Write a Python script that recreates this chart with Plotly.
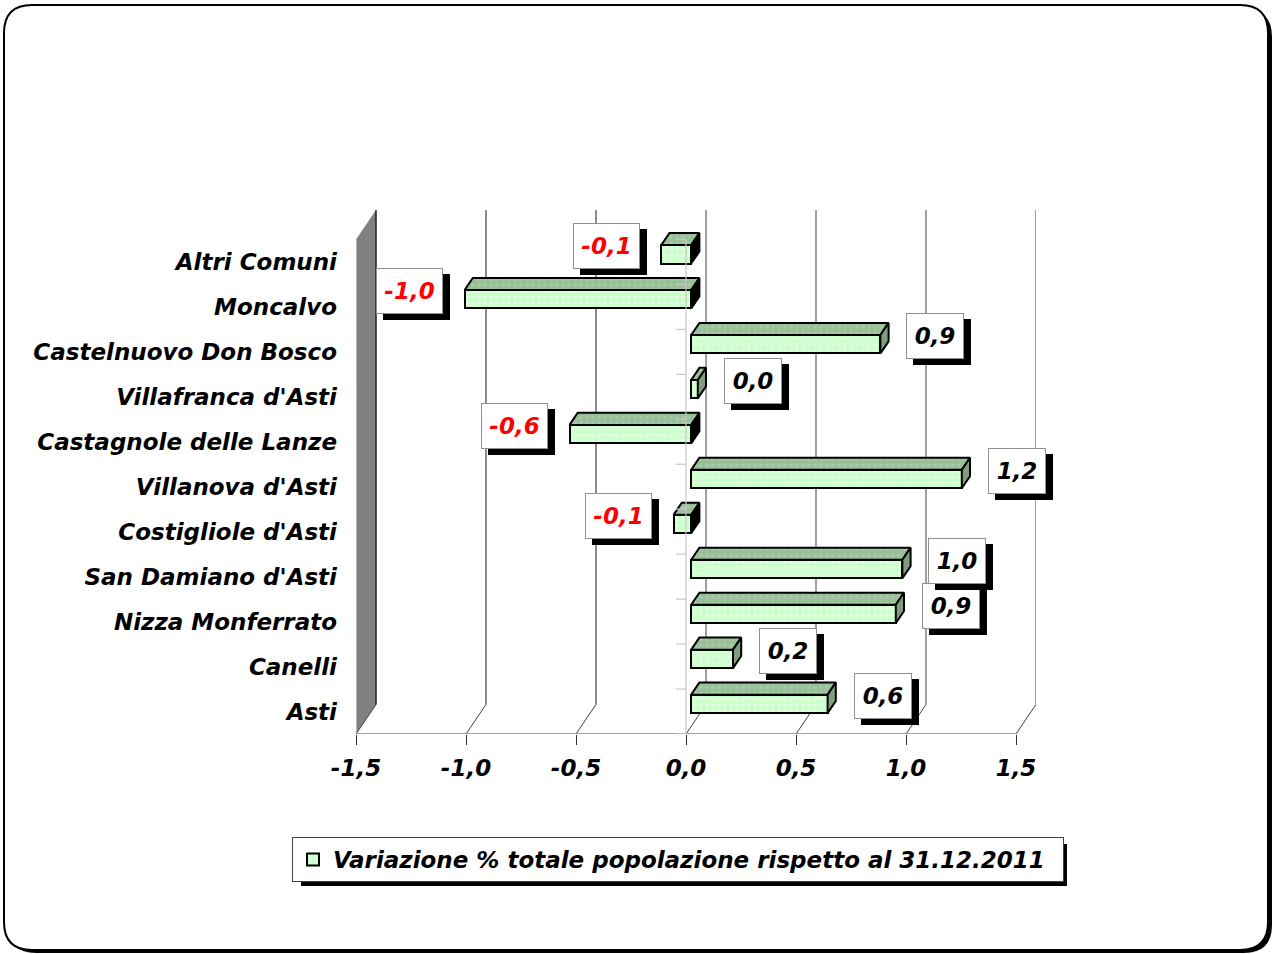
import plotly.graph_objects as go

# ---------------- data ----------------
CATEGORIES = ["Asti", "Canelli", "Nizza Monferrato", "San Damiano d'Asti",
              "Costigliole d'Asti", "Villanova d'Asti", "Castagnole delle Lanze",
              "Villafranca d'Asti", "Castelnuovo Don Bosco", "Moncalvo", "Altri Comuni"]
VALUES = [0.62, 0.19, 0.93, 0.96, -0.08, 1.23, -0.553, 0.03, 0.86, -1.03, -0.136]
TICK_VALUES = [-1.5, -1.0, -0.5, 0.0, 0.5, 1.0, 1.5]
TICK_LABELS = ["-1,5", "-1,0", "-0,5", "0,0", "0,5", "1,0", "1,5"]
SERIES_NAME = "Variazione % totale popolazione rispetto al 31.12.2011"

# ---------------- geometry ----------------
W, H = 1273, 954
ML, MR, MT, MB = 356, 237, 210, 220
PW = W - ML - MR
PH = H - MT - MB
N = len(CATEGORIES)
XMIN = TICK_VALUES[0]
XEND = TICK_VALUES[-1]
PPU_X = PW / (XEND - XMIN + 20.0 / 220.0)
DEPTH_PX = (20.0, 29.5)
PPU_Y = (PH - DEPTH_PX[1]) / N
DXV = DEPTH_PX[0] / PPU_X
DYV = DEPTH_PX[1] / PPU_Y
XMAX = XMIN + PW / PPU_X
YMIN = -0.5
YMAX = YMIN + PH / PPU_Y

F0 = 0.26      # depth of bar front face (fraction of full depth)
FD = 0.41      # bar depth (fraction)
BAR_H = 0.41   # bar thickness (fraction of band)

FONT_SIZE = 23
FONT = dict(family="DejaVu Sans", size=FONT_SIZE, color="black", weight="bold", style="italic")
CHAR_EM = {"-": 0.415, ",": 0.38, ".": 0.38}


def text_width(s):
    return sum(CHAR_EM.get(c, 0.696) for c in s) * FONT_SIZE


def pxx(x):
    return (x - ML) / PW


def pxy(y):
    return (H - MB - y) / PH


def rrect_path(x0, y0, x1, y1, r):
    pts = [("M", x0 + r, y0), ("L", x1 - r, y0), ("Q", x1, y0, x1, y0 + r),
           ("L", x1, y1 - r), ("Q", x1, y1, x1 - r, y1), ("L", x0 + r, y1),
           ("Q", x0, y1, x0, y1 - r), ("L", x0, y0 + r), ("Q", x0, y0, x0 + r, y0)]
    s = ""
    for p in pts:
        cmd = p[0]
        coords = p[1:]
        s += cmd + " " + " ".join(
            f"{pxx(coords[k]):.5f},{pxy(coords[k+1]):.5f}" for k in range(0, len(coords), 2)) + " "
    return s + "Z"


shapes = []
# page border with shadow
shapes.append(dict(type="path", xref="paper", yref="paper", layer="below",
                   path=rrect_path(8, 9, 1272, 953, 28), fillcolor="black", line=dict(width=0)))
shapes.append(dict(type="path", xref="paper", yref="paper", layer="below",
                   path=rrect_path(4, 5, 1268, 950, 28), fillcolor="white",
                   line=dict(color="black", width=2)))


def seg(x0, y0, x1, y1, color, width=1.0, layer="below"):
    shapes.append(dict(type="line", xref="x", yref="y", x0=x0, y0=y0, x1=x1, y1=y1,
                       layer=layer, line=dict(color=color, width=width)))


YB = -0.5
YT = N - 0.5
# left wall
shapes.append(dict(type="path", xref="x", yref="y", layer="below",
                   path=f"M {XMIN},{YB} L {XMIN},{YT} L {XMIN+DXV},{YT+DYV} L {XMIN+DXV},{YB+DYV} Z",
                   fillcolor="#808080", line=dict(width=0)))
seg(XMIN + DXV, YB + DYV, XMIN + DXV, YT + DYV, "#202020", 1.5)
seg(XMIN, YB, XMIN, YT, "#c8c8c8", 1.5)
for k in range(N + 1):
    seg(XMIN - 12 / PPU_X, k - 0.5, XMIN, k - 0.5, "#c8c8c8", 1.2)
# back wall gridlines
for t in TICK_VALUES[1:]:
    seg(t + DXV, YB + DYV, t + DXV, YT + DYV, "#404040" if t < 0 else "#606060", 1.2)
# floor
for t in TICK_VALUES:
    seg(t, YB, t + DXV, YB + DYV, "#404040", 1)
seg(XMIN, YB, XEND, YB, "#808080", 1.5)

fig = go.Figure()

# front faces of bars
ys = [i + F0 * DYV for i in range(N)]
base = F0 * DXV
fig.add_trace(go.Bar(
    orientation="h", y=ys, x=VALUES, base=base, width=BAR_H, name=SERIES_NAME,
    marker=dict(color="#ccffcc", line=dict(color="black", width=2),
                pattern=dict(shape=".", fgcolor="#f4fff4", bgcolor="#ccffcc", size=6, solidity=0.3)),
    hoverinfo="skip", showlegend=True))

# top faces and side faces
tx, ty, spx, spy, snx, sny = [], [], [], [], [], []
ox, oy = FD * DXV, FD * DYV
for yc, v in zip(ys, VALUES):
    x0, x1 = base + min(v, 0), base + max(v, 0)
    yt, yb = yc + BAR_H / 2, yc - BAR_H / 2
    tx += [x0, x1, x1 + ox, x0 + ox, x0, None]
    ty += [yt, yt, yt + oy, yt + oy, yt, None]
    sx = [x1, x1, x1 + ox, x1 + ox, x1, None]
    sy = [yb, yt, yt + oy, yb + oy, yb, None]
    if v >= 0:
        spx += sx
        spy += sy
    else:
        snx += sx
        sny += sy

fig.add_trace(go.Scatter(x=tx, y=ty, mode="lines", fill="toself", fillcolor="#99bf99",
                         fillpattern=dict(shape=".", fgcolor="#b4d4b4", bgcolor="#99bf99", size=6, solidity=0.3),
                         line=dict(color="black", width=2), hoverinfo="skip", showlegend=False))
fig.add_trace(go.Scatter(x=spx, y=spy, mode="lines", fill="toself", fillcolor="#7e9e7e",
                         line=dict(color="black", width=2), hoverinfo="skip", showlegend=False))
fig.add_trace(go.Scatter(x=snx, y=sny, mode="lines", fill="toself", fillcolor="black",
                         line=dict(color="black", width=2), hoverinfo="skip", showlegend=False))

# front category axis at 0
ax_x, ax_y = [0, 0, None], [YB, YT, None]
for k in range(N + 1):
    ax_x += [-10 / PPU_X, 0, None]
    ax_y += [k - 0.5, k - 0.5, None]
fig.add_trace(go.Scatter(x=ax_x, y=ax_y, mode="lines", line=dict(color="#c8c8c8", width=1.2),
                         hoverinfo="skip", showlegend=False))

# data labels (white boxes with black drop shadow)
annotations = []
LBL_OFF = 55 / PPU_X
LBL_H = 30
for yc, v in zip(ys, VALUES):
    txt = f"{v:.1f}".replace(".", ",")
    end = base + v
    lx = end + (LBL_OFF if v >= 0 else -LBL_OFF)
    ly = yc + 8 / PPU_Y
    col = "red" if v < 0 else "black"
    wbox = round(text_width(txt)) + 1
    annotations.append(dict(x=lx, y=ly, xref="x", yref="y", text=" ", showarrow=False,
                            width=wbox, height=LBL_H, bgcolor="black", bordercolor="black",
                            borderwidth=1, borderpad=7, xshift=7, yshift=-6))
    annotations.append(dict(x=lx, y=ly, xref="x", yref="y", text=txt, showarrow=False,
                            width=wbox, height=LBL_H, font=dict(FONT, color=col),
                            bgcolor="white", bordercolor="#909090",
                            borderwidth=1, borderpad=7))

# legend shadow
shapes.append(dict(type="rect", xref="paper", yref="paper", layer="above",
                   x0=pxx(301), y0=pxy(844), x1=pxx(1067), y1=pxy(886),
                   fillcolor="black", line=dict(width=0)))

fig.update_layout(
    width=W, height=H, margin=dict(l=ML, r=MR, t=MT, b=MB, autoexpand=False),
    paper_bgcolor="white", plot_bgcolor="rgba(0,0,0,0)",
    shapes=shapes, annotations=annotations, bargap=0,
    showlegend=True,
    legend=dict(x=pxx(292), y=pxy(837), xanchor="left", yanchor="top", bgcolor="white",
                bordercolor="#404040", borderwidth=1, font=FONT, itemwidth=30,
                orientation="h", entrywidth=725, entrywidthmode="pixels"),
    xaxis=dict(range=[XMIN, XMAX], tickvals=TICK_VALUES, ticktext=TICK_LABELS,
               ticks="outside", ticklen=10, tickcolor="#303030", tickwidth=1,
               showgrid=False, zeroline=False, showline=False, tickfont=FONT,
               ticklabelstandoff=3, fixedrange=True),
    yaxis=dict(range=[YMIN, YMAX], tickvals=list(range(N)), ticktext=CATEGORIES,
               ticks="", showgrid=False, zeroline=False, showline=False, tickfont=FONT,
               ticklabelstandoff=18, fixedrange=True),
)

fig.write_html("out.html", config={"displayModeBar": False},
               post_script="document.body.style.margin='0';document.body.style.overflow='hidden';")
